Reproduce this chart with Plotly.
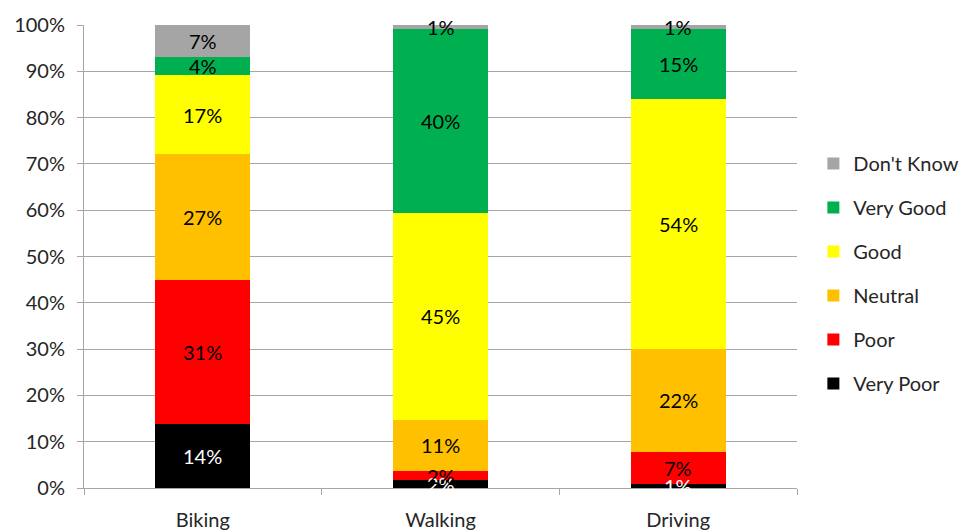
import plotly.graph_objects as go

categories = ["Biking", "Walking", "Driving"]
series_names = ["Very Poor", "Poor", "Neutral", "Good", "Very Good", "Don't Know"]
very_poor = [13.8, 1.7, 0.8]
poor = [31.1, 2.0, 7.0]
neutral = [27.2, 11.0, 22.2]
good = [17.1, 44.7, 54.0]
very_good = [3.9, 39.7, 15.1]
dont_know = [6.9, 0.9, 0.9]
colors = ["#000000", "#FF0000", "#FFC000", "#FFFF00", "#00B050", "#A5A5A5"]
label_colors = ["#FFFFFF", "#000000", "#000000", "#000000", "#000000", "#000000"]
tick_vals = [0, 10, 20, 30, 40, 50, 60, 70, 80, 90, 100]
tick_text = ["0%", "10%", "20%", "30%", "40%", "50%", "60%", "70%", "80%", "90%", "100%"]

FONT = "Lato, 'Open Sans', sans-serif"
FS = 20
TXT = "#262626"

all_series = [very_poor, poor, neutral, good, very_good, dont_know]

fig = go.Figure()
n = len(series_names)
for i, (name, vals, col) in enumerate(zip(series_names, all_series, colors)):
    fig.add_trace(go.Bar(
        x=categories, y=vals, name=name,
        marker=dict(color=col, line=dict(width=0)),
        legendgroup=name, legendrank=n - i,
        hoverinfo="skip",
    ))

# data labels centred in each segment (positions derived from the data)
annotations = []
for ci, cat in enumerate(categories):
    base = 0.0
    for si, vals in enumerate(all_series):
        v = vals[ci]
        annotations.append(dict(
            x=cat, y=base + v / 2, xref="x", yref="y",
            text=f"{round(v):d}%", showarrow=False,
            font=dict(color=label_colors[si], size=FS, family=FONT),
            xanchor="center", yanchor="middle",
        ))
        base += v

fig.update_layout(
    barmode="stack",
    bargap=0.6,
    width=966, height=530,
    margin=dict(l=84, r=169, t=25, b=42, autoexpand=False),
    paper_bgcolor="white", plot_bgcolor="white",
    font=dict(family=FONT, size=FS, color=TXT),
    showlegend=True,
    legend=dict(traceorder="grouped", xref="container", yref="container",
                x=0.842, y=0.484, xanchor="left", yanchor="middle",
                font=dict(size=FS, color=TXT), tracegroupgap=15,
                itemwidth=30, itemsizing="constant"),
    annotations=annotations,
)
fig.update_yaxes(range=[0, 100], tickvals=tick_vals, ticktext=tick_text,
                 showgrid=True, gridcolor="#A6A6A6", gridwidth=1,
                 showline=True, linecolor="#A6A6A6", linewidth=1,
                 ticks="outside", ticklen=6, tickcolor="#A6A6A6",
                 ticklabelstandoff=8,
                 zeroline=False, tickfont=dict(size=FS, color=TXT))
fig.update_xaxes(showgrid=False, showline=True, linecolor="#A6A6A6", linewidth=1,
                 ticks="outside", tickson="boundaries", ticklen=6, tickcolor="#A6A6A6",
                 ticklabelstandoff=14,
                 tickfont=dict(size=FS, color=TXT))

fig.write_html("out.html")
